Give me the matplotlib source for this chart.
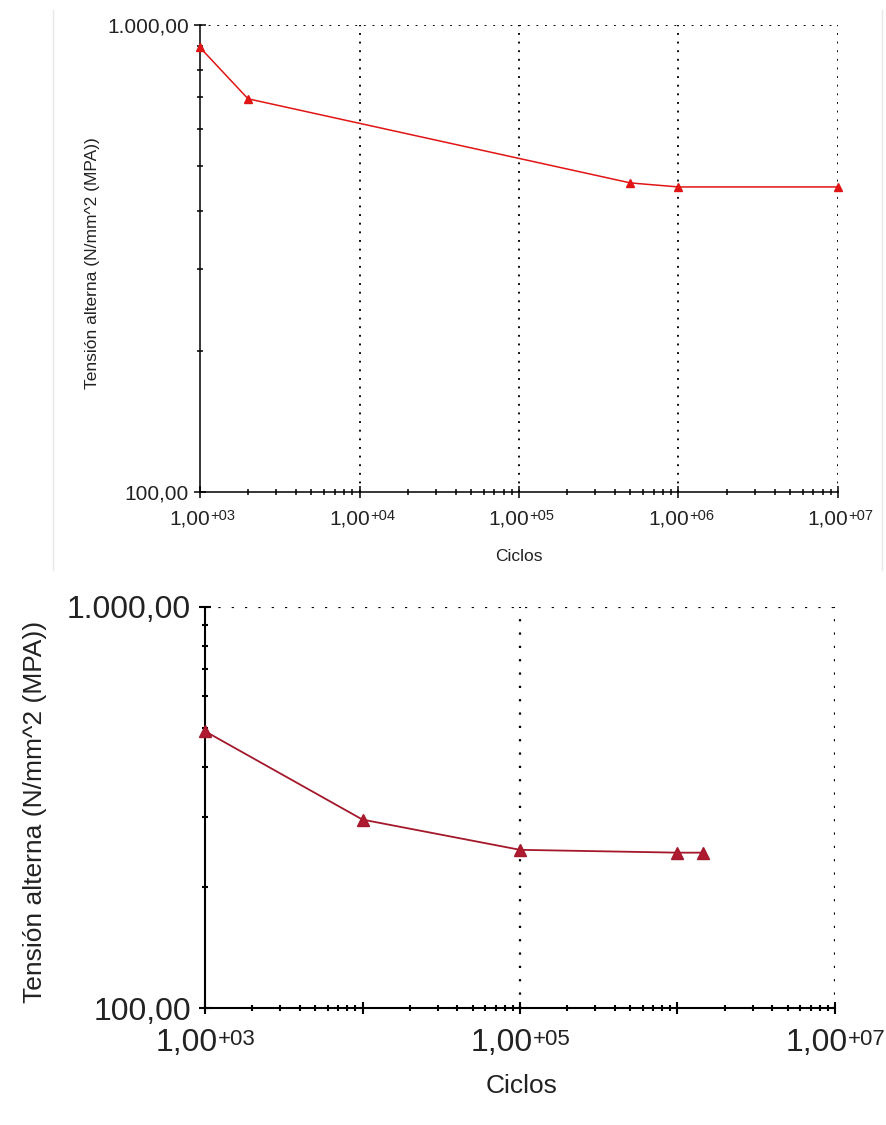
import matplotlib
matplotlib.use("Agg")
import matplotlib.pyplot as plt
from matplotlib.ticker import FixedLocator, FixedFormatter, LogLocator, NullFormatter
from matplotlib.lines import Line2D

plt.rcParams['font.family'] = ['Liberation Sans', 'DejaVu Sans']

# top chart (S-N curve 1)
top_cycles = [1e3, 2e3, 5e5, 1e6, 1e7]
top_stress = [895, 695, 459, 450, 450]
top_xticks = [1e3, 1e4, 1e5, 1e6, 1e7]
top_xmant = ['1,00', '1,00', '1,00', '1,00', '1,00']
top_xexp = ['+03', '+04', '+05', '+06', '+07']

# bottom chart (S-N curve 2)
bot_cycles = [1e3, 1e4, 1e5, 1e6, 1.45e6]
bot_stress = [490, 295, 248, 244, 244]
bot_xticks = [1e3, 1e4, 1e5, 1e6, 1e7]
bot_xmant = ['1,00', '', '1,00', '', '1,00']
bot_xexp = ['+03', '', '+05', '', '+07']

yticks = [100, 1000]
ylabels = ['100,00', '1.000,00']

ylabel_txt = 'Tensión alterna (N/mm^2 (MPA))'
xlabel_txt = 'Ciclos'

W, H = 887, 1125
fig = plt.figure(figsize=(W / 100, H / 100), dpi=100)
txt_col = '#222222'


def box(l, t, r, b):
    return [l / W, 1 - b / H, (r - l) / W, (b - t) / H]


def setup(ax, xticks, fs_tick, fs_lab, lw, glw, dots, hide_grid, pad_y):
    ax.set_xscale('log')
    ax.set_yscale('log')
    ax.set_xlim(1e3, 1e7)
    ax.set_ylim(100, 1000)
    ax.xaxis.set_major_locator(FixedLocator(xticks))
    ax.xaxis.set_major_formatter(NullFormatter())
    ax.xaxis.set_minor_locator(LogLocator(base=10, subs=range(2, 10)))
    ax.xaxis.set_minor_formatter(NullFormatter())
    ax.yaxis.set_major_locator(FixedLocator(yticks))
    ax.yaxis.set_major_formatter(FixedFormatter(ylabels))
    ax.yaxis.set_minor_locator(LogLocator(base=10, subs=range(2, 10)))
    ax.yaxis.set_minor_formatter(NullFormatter())
    for s in ['top', 'right']:
        ax.spines[s].set_visible(False)
    for s in ['left', 'bottom']:
        ax.spines[s].set_linewidth(lw)
        ax.spines[s].set_color('black')
    ax.tick_params(which='major', direction='inout', length=8, width=lw, color='black',
                   labelsize=fs_tick, labelcolor=txt_col)
    ax.tick_params(which='minor', direction='inout', length=5, width=lw, color='black')
    ax.tick_params(axis='y', which='major', pad=pad_y)
    ax.grid(True, which='major', color='black', linestyle=(0, dots), linewidth=glw)
    ax.yaxis.get_major_ticks()[0].gridline.set_visible(False)
    ax.xaxis.get_major_ticks()[0].gridline.set_visible(False)
    for i in hide_grid:
        ax.xaxis.get_major_ticks()[i].gridline.set_visible(False)
    ax.set_axisbelow(True)
    ax.set_ylabel(ylabel_txt, fontsize=fs_lab, color=txt_col, va='center')
    ax.set_xlabel(xlabel_txt, fontsize=fs_lab, color=txt_col, va='center')


def xlabels(ax, xticks, mant, exps, fs_big, fs_small, dx, dy, rise):
    # "1,00" plus a small raised exponent, like the original software
    for x, m, e in zip(xticks, mant, exps):
        if not m:
            continue
        ax.annotate(m, xy=(x, 0), xycoords=('data', 'axes fraction'),
                    xytext=(dx, -dy), textcoords='offset points',
                    ha='right', va='baseline', fontsize=fs_big, color=txt_col,
                    annotation_clip=False)
        ax.annotate(e, xy=(x, 0), xycoords=('data', 'axes fraction'),
                    xytext=(dx, -dy + rise), textcoords='offset points',
                    ha='left', va='baseline', fontsize=fs_small, color=txt_col,
                    annotation_clip=False)


ax1 = fig.add_axes(box(200, 25, 838, 492))
setup(ax1, top_xticks, 15, 12.5, 1.1, 1.35, (1, 3.6), [], 4)
xlabels(ax1, top_xticks, top_xmant, top_xexp, 15, 10.5, 7.5, 23.5, 3)
ax1.plot(top_cycles, top_stress, color='#e01515', lw=1.1, marker='^', ms=5.5,
         mec='#e01515', mfc='#e01515', clip_on=False, zorder=5)
ax1.yaxis.set_label_coords(-0.169, 0.49)
ax1.xaxis.set_label_coords(0.5, -0.139)

ax2 = fig.add_axes(box(205, 607, 835, 1008))
setup(ax2, bot_xticks, 23, 19, 1.5, 1.6, (1, 5), [1, 3], 6)
xlabels(ax2, bot_xticks, bot_xmant, bot_xexp, 23, 16, 9.5, 31, 4.5)
ax2.plot(bot_cycles, bot_stress, color='#a3182b', lw=1.3, marker='^', ms=8,
         mec='#a3182b', mfc='#b01a30', clip_on=False, zorder=5)
ax2.yaxis.set_label_coords(-0.27, 0.49)
ax2.xaxis.set_label_coords(0.503, -0.195)

# faint borders of the first screenshot
fig.add_artist(Line2D([53 / W, 53 / W], [1 - 570 / H, 1 - 10 / H], color='#e8e8e8', lw=1))
fig.add_artist(Line2D([882 / W, 882 / W], [1 - 570 / H, 1 - 10 / H], color='#e8e8e8', lw=1))

fig.savefig('out.png', dpi=100)
